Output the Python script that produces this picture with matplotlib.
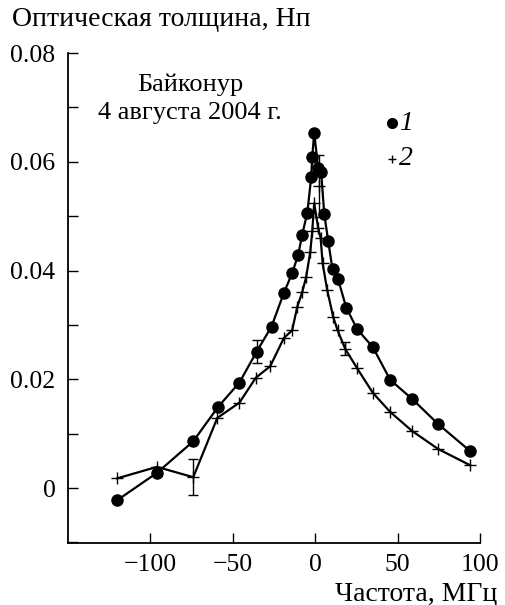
import matplotlib

matplotlib.use("Agg")
import matplotlib.pyplot as plt
from matplotlib.ticker import MultipleLocator

plt.rcParams["font.family"] = ["Liberation Serif", "DejaVu Serif"]
plt.rcParams["font.size"] = 19

# series 1 (dots)
dot_x = [-120, -96, -74, -59, -46, -35.5, -26.5, -19, -14, -10.3, -7.9, -4.8, -2.4, -1.8,
         -0.6, 1.8, 3.6, 5.5, 7.9, 10.5, 13.8, 18.8, 25.5, 35, 45.5, 58.8, 74.5, 94]
dot_y = [-0.0022, 0.0028, 0.0086, 0.0149, 0.0194, 0.0251, 0.0297, 0.0359, 0.0395, 0.0429,
         0.0466, 0.0506, 0.0572, 0.0609, 0.0653, 0.0588, 0.0581, 0.0504, 0.0454, 0.0402,
         0.0385, 0.0332, 0.0292, 0.0259, 0.0199, 0.0164, 0.0118, 0.0068]

# series 2 (crosses)
cross_x = [-120, -96, -74, -59.4, -46, -36, -27.3, -19, -14, -10.9, -7.9, -5.5, -3, -1.8,
           -0.6, 1.8, 3.3, 4.5, 7.3, 10.9, 13.6, 18.2, 25.5, 35, 45.5, 58.8, 74.5, 94]
cross_y = [0.0018, 0.0039, 0.0020, 0.0129, 0.0157, 0.0203, 0.0224, 0.0276, 0.0290, 0.0333,
           0.0360, 0.0388, 0.0434, 0.0472, 0.0524, 0.0478, 0.0460, 0.0413, 0.0364, 0.0315,
           0.0290, 0.0256, 0.0220, 0.0175, 0.0140, 0.0105, 0.0072, 0.0042]

# error bars: (x, y, half-width)
err_dot = ([-35.5], [0.0251], [0.0021])
err_cross = ([-74, 18.2], [0.0020, 0.0256], [0.0033, 0.0012])
peak_cross = ([2.6], [0.0556], [0.0057])  # off-curve point with bar

x_ticks = [-100, -50, 0, 50, 100]

fig = plt.figure(figsize=(5.05, 6.05), dpi=100)
ax = fig.add_axes((68 / 505, 62 / 605, 412 / 505, 490 / 605))

ax.plot(dot_x, dot_y, "-", color="black", lw=1.6, solid_joinstyle="round",
        marker="o", ms=8, mfc="black", mec="black")
ax.plot(cross_x, cross_y, "-", color="black", lw=1.6, solid_joinstyle="round",
        marker="+", ms=8, mew=1.0)
eb = dict(fmt="none", ecolor="black", elinewidth=1.0, capsize=3.5, capthick=1.0)
ax.errorbar(*err_dot[:2], yerr=err_dot[2], **eb)
ax.errorbar(*err_cross[:2], yerr=err_cross[2], **eb)
ax.errorbar(*peak_cross[:2], yerr=peak_cross[2], **eb)
ax.plot(*peak_cross[:2], "+", color="black", ms=8, mew=1.0)

# legend drawn by hand
ax.plot([46.7], [0.0671], "o", color="black", ms=7)
ax.text(51, 0.0671, "1", style="italic", va="center", ha="left", fontsize=20)
ax.plot([46.7], [0.0606], "+", color="black", ms=6, mew=1.0)
ax.text(51, 0.0606, "2", style="italic", va="center", ha="left", fontsize=20)

fig.text(190 / 505, 1 - 85 / 605, "Байконур", ha="center", va="center", fontsize=19)
fig.text(190 / 505, 1 - 113 / 605, "4 августа 2004 г.", ha="center", va="center",
         fontsize=19)

ax.set_xlim(-150, 100)
ax.set_ylim(-0.0101, 0.08)
ax.set_xticks(x_ticks)
ax.yaxis.set_major_locator(MultipleLocator(0.02))
ax.yaxis.set_minor_locator(MultipleLocator(0.01))
ax.set_yticks([0, 0.02, 0.04, 0.06, 0.08])
ax.set_yticklabels(["0", "0.02", "0.04", "0.06", "0.08"])
ax.tick_params(which="both", direction="in", length=7, width=1.0, labelsize=18.5)
ax.tick_params(axis="y", pad=9)
ax.tick_params(axis="x", pad=8)
for s in ("top", "right"):
    ax.spines[s].set_visible(False)
for s in ("left", "bottom"):
    ax.spines[s].set_linewidth(1.3)

fig.text(12 / 505, 1 - 20 / 605, "Оптическая толщина, Нп", ha="left", va="center",
         fontsize=20)
fig.text(497 / 505, 1 - 594 / 605, "Частота, МГц", ha="right", va="center", fontsize=20)

fig.savefig("out.png", dpi=100)
